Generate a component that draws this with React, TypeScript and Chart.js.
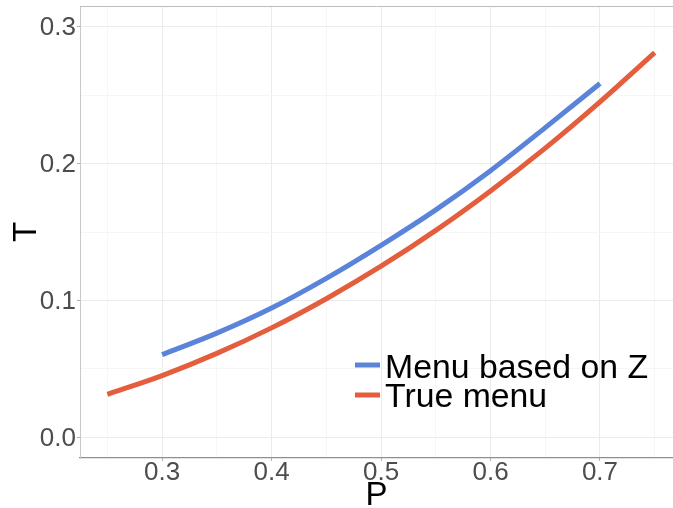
import React, { useEffect, useRef } from 'react';
import { Chart, registerables } from 'chart.js';

Chart.register(...registerables);

// Series
const blueP = [0.3, 0.35, 0.4, 0.45, 0.5, 0.55, 0.6, 0.65, 0.7];
const blueT = [0.0605, 0.0762, 0.0945, 0.1162, 0.1403, 0.1662, 0.1948, 0.2262, 0.2584];
const redP = [0.25, 0.3, 0.35, 0.4, 0.45, 0.5, 0.55, 0.6, 0.65, 0.7, 0.75];
const redT = [0.0315, 0.0452, 0.0614, 0.0800, 0.1013, 0.1250, 0.1512, 0.1800, 0.2112, 0.2450, 0.2810];
const seriesNames = ['Menu based on Z', 'True menu'];
const seriesColors = ['#5A84D9', '#E45E3D'];

const xTicks = [0.25, 0.3, 0.35, 0.4, 0.45, 0.5, 0.55, 0.6, 0.65, 0.7, 0.75];
const yTicks = [0, 0.05, 0.1, 0.15, 0.2, 0.25, 0.3];
const xTitle = 'P';
const yTitle = 'T';

const FONT = '"Liberation Sans", Arial, Helvetica, sans-serif';

const isMajor = (v: number) => Math.round(v * 100) % 10 === 0;

const frame = {
  id: 'frameAndLegend',
  beforeDatasetsDraw(chart: any) {
    const { ctx, chartArea } = chart;
    ctx.save();
    ctx.strokeStyle = '#BDBDBD';
    ctx.lineWidth = 1;
    ctx.beginPath();
    ctx.moveTo(chartArea.left, chartArea.top + 0.5);
    ctx.lineTo(chartArea.right, chartArea.top + 0.5);
    ctx.stroke();
    ctx.restore();
  },
  afterDatasetsDraw(chart: any) {
    const { ctx } = chart;
    const rows = [
      { lineY: 365, textY: 377.5 },
      { lineY: 395, textY: 406.5 },
    ];
    ctx.save();
    chart.data.datasets.forEach((ds: any, i: number) => {
      const r = rows[i];
      ctx.strokeStyle = ds.borderColor;
      ctx.lineWidth = 5;
      ctx.lineCap = 'butt';
      ctx.beginPath();
      ctx.moveTo(355, r.lineY);
      ctx.lineTo(380, r.lineY);
      ctx.stroke();
      ctx.fillStyle = '#000000';
      ctx.font = `33.8px ${FONT}`;
      ctx.textAlign = 'left';
      ctx.textBaseline = 'alphabetic';
      ctx.fillText(ds.label, 385, r.textY);
    });
    ctx.restore();
  },
};

export default function App() {
  const ref = useRef<HTMLCanvasElement | null>(null);

  useEffect(() => {
    if (!ref.current) return;
    const chart = new Chart(ref.current, {
      type: 'line',
      data: {
        datasets: [
          {
            label: seriesNames[0],
            data: blueP.map((p, i) => ({ x: p, y: blueT[i] })),
            borderColor: seriesColors[0],
            borderWidth: 5,
            borderCapStyle: 'butt',
            pointRadius: 0,
            cubicInterpolationMode: 'monotone',
            fill: false,
          },
          {
            label: seriesNames[1],
            data: redP.map((p, i) => ({ x: p, y: redT[i] })),
            borderColor: seriesColors[1],
            borderWidth: 5,
            borderCapStyle: 'butt',
            pointRadius: 0,
            cubicInterpolationMode: 'monotone',
            fill: false,
          },
        ],
      },
      options: {
        responsive: false,
        animation: false,
        events: [],
        layout: { padding: { top: 6, right: 0, bottom: 0, left: 0 } },
        plugins: { legend: { display: false }, tooltip: { enabled: false } },
        scales: {
          x: {
            type: 'linear',
            min: 0.225,
            max: 0.7667,
            afterBuildTicks: (s: any) => {
              s.ticks = xTicks.map((v) => ({ value: v }));
            },
            afterFit: (s: any) => {
              s.height = 50;
              s.paddingLeft = 0;
              s.paddingRight = 0;
            },
            ticks: {
              autoSkip: false,
              maxRotation: 0,
              padding: -1,
              color: '#4D4D4D',
              font: { family: FONT, size: 26, lineHeight: 1 },
              callback: (v: any) => (isMajor(Number(v)) ? Number(v).toFixed(1) : ''),
            },
            grid: {
              color: (c: any) => (isMajor(c.tick?.value ?? 0) ? '#EBEBEB' : '#F4F4F4'),
              lineWidth: (c: any) => (isMajor(c.tick?.value ?? 0) ? 1 : 0.8),
              tickLength: 3,
              tickColor: (c: any) => (isMajor(c.tick?.value ?? 0) ? '#B0B0B0' : 'rgba(0,0,0,0)'),
            },
            border: { display: true, color: '#8F8F8F', width: 1.2 },
            title: {
              display: true,
              text: xTitle,
              color: '#000000',
              font: { family: FONT, size: 33, lineHeight: 1 },
              padding: { top: 0, bottom: -4 },
            },
          },
          y: {
            type: 'linear',
            min: -0.015,
            max: 0.315,
            afterBuildTicks: (s: any) => {
              s.ticks = yTicks.map((v) => ({ value: v }));
            },
            afterFit: (s: any) => {
              s.width = 80;
              s.paddingTop = 0;
              s.paddingBottom = 0;
            },
            ticks: {
              autoSkip: false,
              padding: 1,
              labelOffset: 1.5,
              color: '#4D4D4D',
              font: { family: FONT, size: 26, lineHeight: 1 },
              callback: (v: any) => (isMajor(Number(v)) ? Number(v).toFixed(1) : ''),
            },
            grid: {
              color: (c: any) => (isMajor(c.tick?.value ?? 0) ? '#EBEBEB' : '#F4F4F4'),
              lineWidth: (c: any) => (isMajor(c.tick?.value ?? 0) ? 1 : 0.8),
              tickLength: 3,
              tickColor: (c: any) => (isMajor(c.tick?.value ?? 0) ? '#B0B0B0' : 'rgba(0,0,0,0)'),
            },
            border: { display: true, color: '#C8C8C8', width: 1 },
            title: {
              display: true,
              text: yTitle,
              color: '#000000',
              font: { family: FONT, size: 33, lineHeight: 1 },
              padding: { top: 10, bottom: 0 },
            },
          },
        },
      },
      plugins: [frame],
    } as any);
    return () => chart.destroy();
  }, []);

  return (
    <div style={{ position: 'fixed', left: 0, top: 0, width: 673, height: 508, background: '#FFFFFF' }}>
      <canvas ref={ref} width={673} height={508} style={{ display: 'block' }} />
    </div>
  );
}
